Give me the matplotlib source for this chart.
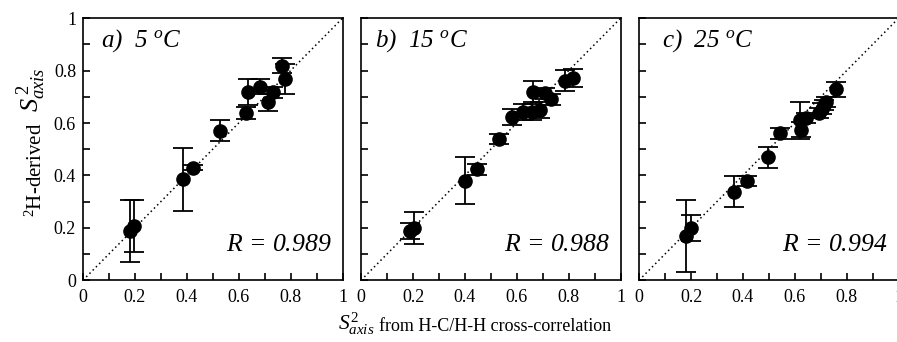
import numpy as np
import matplotlib
matplotlib.use("Agg")
import matplotlib.pyplot as plt
from matplotlib.ticker import MultipleLocator

plt.rcParams["font.family"] = "Liberation Serif"
plt.rcParams["mathtext.fontset"] = "custom"
plt.rcParams["mathtext.rm"] = "Liberation Serif"
plt.rcParams["mathtext.it"] = "Liberation Serif:italic"

# panel a) 5 C
xa = [0.18, 0.195, 0.387, 0.423, 0.528, 0.628, 0.637, 0.683, 0.712, 0.731, 0.766, 0.778]
ya = [0.188, 0.207, 0.386, 0.429, 0.571, 0.639, 0.717, 0.739, 0.679, 0.717, 0.819, 0.768]
ea = [0.12, 0.10, 0.12, 0.01, 0.04, 0.022, 0.05, 0.03, 0.032, 0.02, 0.028, 0.059]

# panel b) 15 C
xb = [0.19, 0.205, 0.401, 0.447, 0.53, 0.583, 0.624, 0.66, 0.691, 0.662, 0.707, 0.73, 0.785, 0.817]
yb = [0.189, 0.2, 0.38, 0.423, 0.539, 0.622, 0.643, 0.643, 0.65, 0.72, 0.713, 0.69, 0.761, 0.773]
eb = [0.03, 0.06, 0.09, 0.02, 0.02, 0.03, 0.03, 0.03, 0.03, 0.04, 0.02, 0.02, 0.04, 0.035]

# panel c) 25 C
xc = [0.18, 0.2, 0.366, 0.415, 0.496, 0.544, 0.621, 0.643, 0.625, 0.692, 0.705, 0.712, 0.72, 0.759]
yc = [0.168, 0.2, 0.338, 0.379, 0.47, 0.56, 0.61, 0.62, 0.575, 0.639, 0.655, 0.668, 0.68, 0.728]
ec = [0.138, 0.05, 0.06, 0.02, 0.04, 0.02, 0.07, 0.02, 0.03, 0.02, 0.02, 0.02, 0.02, 0.03]

labels = ["a)  5 $^{o}$C", "b)  15 $^{o}$C", "c)  25 $^{o}$C"]
r_values = ["0.989", "0.988", "0.994"]
label_x = [0.068, 0.054, 0.088]
tick_vals = [0, 0.2, 0.4, 0.6, 0.8, 1]
tick_text = ["0", "0.2", "0.4", "0.6", "0.8", "1"]

fig = plt.figure(figsize=(8.97, 3.42), dpi=100)
lefts = [83.0, 361.1, 639.1]
W, H = 897.0, 342.0

data = [(xa, ya, ea), (xb, yb, eb), (xc, yc, ec)]
for i, (x, y, e) in enumerate(data):
    ax = fig.add_axes([lefts[i] / W, 61.8 / H, 259.5 / W, 262 / H])
    ax.plot([0, 1], [0, 1], color="black", linestyle=(0, (1, 2.0)), linewidth=1.1)
    ax.errorbar(x, y, yerr=e, fmt="o", color="black", ms=9.5, capsize=7,
                elinewidth=1.3, capthick=1.3)
    ax.set_xlim(0, 1)
    ax.set_ylim(0, 1)
    ax.set_xticks(tick_vals)
    ax.set_xticklabels(tick_text)
    ax.set_yticks(tick_vals)
    ax.xaxis.set_minor_locator(MultipleLocator(0.1))
    ax.yaxis.set_minor_locator(MultipleLocator(0.1))
    ax.tick_params(which="both", direction="in", length=5, width=1.2,
                   top=False, right=False, labelsize=13)
    ax.tick_params(axis="x", pad=6)
    ax.tick_params(axis="y", pad=5)
    if i == 0:
        ax.set_yticklabels(tick_text)
    else:
        ax.set_yticklabels([])
    for sp in ax.spines.values():
        sp.set_linewidth(1.2)
    ax.text(label_x[i], 0.89, labels[i], transform=ax.transAxes, fontsize=18,
            style="italic", ha="left", va="baseline")
    ax.text(0.957, 0.11, "$R$ = " + r_values[i], transform=ax.transAxes,
            fontsize=18.5, style="italic", ha="right", va="baseline")

# y label: two pieces, rotated
fig.text(41.5 / W, 1 - 217 / H, "$^{2}$H-derived", rotation=90, rotation_mode="anchor",
         ha="left", va="baseline", fontsize=15)
fig.text(39 / W, 1 - 112 / H, "$S^{\\,2}_{axis}$", rotation=90, rotation_mode="anchor",
         ha="left", va="baseline", fontsize=19)

# x label: two pieces
fig.text(375 / W, 1 - 330 / H, "$S^{2}_{axis}$", ha="right", va="baseline", fontsize=15.5)
fig.text(379 / W, 1 - 331 / H, "from H-C/H-H cross-correlation",
         ha="left", va="baseline", fontsize=13)

plt.savefig("out.png", dpi=100)
